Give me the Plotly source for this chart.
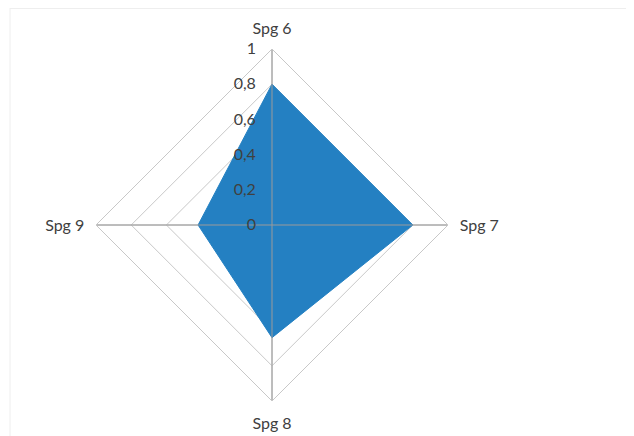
import plotly.graph_objects as go

categories = ["Spg 6", "Spg 7", "Spg 8", "Spg 9"]
values = [0.8, 0.8, 0.64, 0.42]
radial_ticks = [0, 0.2, 0.4, 0.6, 0.8, 1]
radial_tick_labels = ["0", "0,2", "0,4", "0,6", "0,8", "1"]
radial_range = [0, 1]

W, H = 634, 436
OFF = 8  # browser body margin
cx, cy, R = 272 - OFF, 225 - OFF, 176

fig = go.Figure()
fig.add_trace(go.Scatterpolar(
    r=values + [values[0]],
    theta=categories + [categories[0]],
    mode="lines",
    fill="toself",
    fillcolor="#2480C2",
    line=dict(color="#2480C2", width=1),
    hoverinfo="r+theta",
))

# spokes drawn over the filled area, as in the reference
for c in categories:
    fig.add_trace(go.Scatterpolar(
        r=radial_range,
        theta=[c, c],
        mode="lines",
        line=dict(color="#9a9a9a", width=1),
        hoverinfo="skip",
    ))

fig.update_layout(
    width=W, height=H,
    margin=dict(l=0, r=0, t=0, b=0),
    paper_bgcolor="white",
    showlegend=False,
    font=dict(family="Lato, Open Sans, sans-serif", size=16, color="#404040"),
    polar=dict(
        domain=dict(x=[(cx - R) / W, (cx + R) / W],
                    y=[(H - cy - R) / H, (H - cy + R) / H]),
        bgcolor="rgba(0,0,0,0)",
        gridshape="linear",
        angularaxis=dict(
            rotation=90,
            direction="clockwise",
            categoryorder="array",
            categoryarray=categories,
            showline=True,
            linecolor="#c8c8c8",
            linewidth=1,
            gridcolor="#c0c0c0",
            gridwidth=1,
            ticks="outside",
            ticklen=8,
            tickcolor="rgba(0,0,0,0)",
            tickfont=dict(size=16, color="#404040"),
        ),
        radialaxis=dict(
            range=radial_range,
            tickvals=radial_ticks,
            ticktext=radial_tick_labels,
            angle=90,
            tickangle=90,
            side="counterclockwise",
            showline=False,
            gridcolor="#c8c8c8",
            gridwidth=1,
            ticks="outside",
            ticklen=10,
            tickcolor="rgba(0,0,0,0)",
            tickfont=dict(size=16, color="#404040"),
            layer="above traces",
        ),
    ),
    shapes=[
        dict(type="line", xref="paper", yref="paper", x0=2 / W, x1=1, y0=1 - 0.5 / H, y1=1 - 0.5 / H,
             line=dict(color="#eeeeee", width=1)),
        dict(type="line", xref="paper", yref="paper", x0=2 / W, x1=2 / W, y0=0, y1=1,
             line=dict(color="#eeeeee", width=1)),
    ],
)

fig.write_html("out.html")
